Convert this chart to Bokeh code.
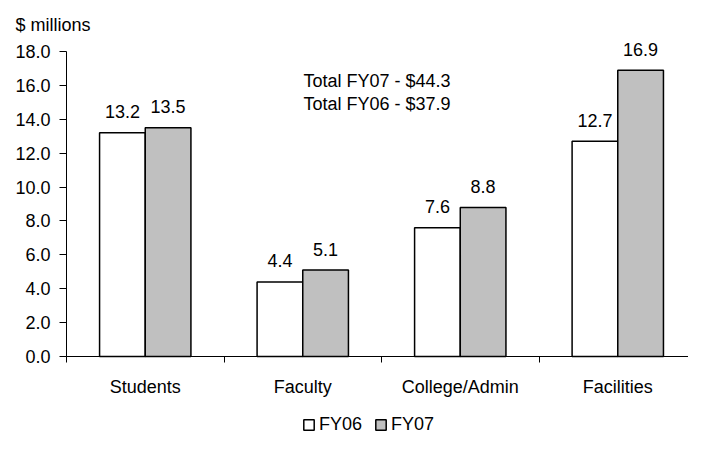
from bokeh.plotting import figure
from bokeh.models import (ColumnDataSource, Range1d, FixedTicker, PrintfTickFormatter,
                          Label, Legend, LegendItem)
from bokeh.core.properties import value
from bokeh.embed import file_html
from bokeh.resources import INLINE

categories = ["Students", "Faculty", "College/Admin", "Facilities"]
fy06 = [13.2, 4.4, 7.6, 12.7]
fy07 = [13.5, 5.1, 8.8, 16.9]
series_names = ["FY06", "FY07"]
y_ticks = [0, 2, 4, 6, 8, 10, 12, 14, 16, 18]
total_lines = ["Total FY07 - $44.3", "Total FY06 - $37.9"]
unit_label = "$ millions"

FONT = "Liberation Sans"
FS = "18px"
BAR_W = 0.29
n = len(categories)
Y_MAX = 18

# The frame covers the whole canvas; axes are pinned at x=0 / y=0 and bounded.
p = figure(width=688, height=435,
           x_range=Range1d(-0.419, 3.949), y_range=Range1d(-4.662, 21.01),
           output_backend="svg", toolbar_location=None,
           min_border_left=0, min_border_right=0, min_border_top=0, min_border_bottom=0)
p.outline_line_color = None
p.grid.visible = False
p.background_fill_color = "white"

centers = [i + 0.5 for i in range(n)]
src06 = ColumnDataSource(dict(x=[c - BAR_W / 2 for c in centers], top=fy06,
                              lbl=[f"{v:.1f}" for v in fy06]))
src07 = ColumnDataSource(dict(x=[c + BAR_W / 2 for c in centers], top=fy07,
                              lbl=[f"{v:.1f}" for v in fy07]))

r06 = p.vbar(x="x", top="top", bottom=0, width=BAR_W, source=src06,
             fill_color="white", line_color="black", line_width=1.5)
r07 = p.vbar(x="x", top="top", bottom=0, width=BAR_W, source=src07,
             fill_color="#c0c0c0", line_color="black", line_width=1.5)

for s in (src06, src07):
    p.text(x="x", y="top", text="lbl", source=s, text_align="center",
           text_baseline="middle", y_offset=-21, text_font=value(FONT),
           text_font_size=FS, text_color="black")

# y axis
ya = p.yaxis[0]
ya.fixed_location = 0
ya.bounds = (0, Y_MAX)
ya.ticker = FixedTicker(ticks=y_ticks)
ya.formatter = PrintfTickFormatter(format="%.1f")
ya.axis_line_color = "black"
ya.major_tick_line_color = "black"
ya.major_tick_out = 7
ya.major_tick_in = 0
ya.minor_tick_line_color = None
ya.major_label_standoff = 9
ya.major_label_text_font = FONT
ya.major_label_text_font_size = FS
ya.major_label_text_color = "black"

# x axis
xa = p.xaxis[0]
xa.fixed_location = 0
xa.bounds = (0, n)
xa.ticker = FixedTicker(ticks=centers, minor_ticks=list(range(n + 1)))
xa.major_label_overrides = {c: name for c, name in zip(centers, categories)}
xa.axis_line_color = "black"
xa.major_tick_line_color = None
xa.major_tick_out = 0
xa.major_tick_in = 0
xa.minor_tick_line_color = "black"
xa.minor_tick_out = 6
xa.minor_tick_in = 0
xa.major_label_standoff = 14
xa.major_label_text_font = FONT
xa.major_label_text_font_size = FS
xa.major_label_text_color = "black"

p.add_layout(Label(x=-0.324, y=19.56, text=unit_label, text_align="left",
                   text_baseline="middle", text_font=FONT, text_font_size=FS,
                   text_color="black"))
for t, yy in zip(total_lines, [16.26, 14.90]):
    p.add_layout(Label(x=1.505, y=yy, text=t, text_align="left",
                       text_baseline="middle", text_font=FONT, text_font_size=FS,
                       text_color="black"))

legend = Legend(items=[LegendItem(label=series_names[0], renderers=[r06]),
                       LegendItem(label=series_names[1], renderers=[r07])],
                location=(302, 0), orientation="horizontal",
                glyph_width=13, glyph_height=13, label_standoff=4, spacing=12,
                padding=1, margin=0, border_line_color=None, background_fill_alpha=0,
                label_text_font=FONT, label_text_font_size=FS, label_text_color="black")
p.add_layout(legend)

open("out.html", "w").write(file_html(p, INLINE))
